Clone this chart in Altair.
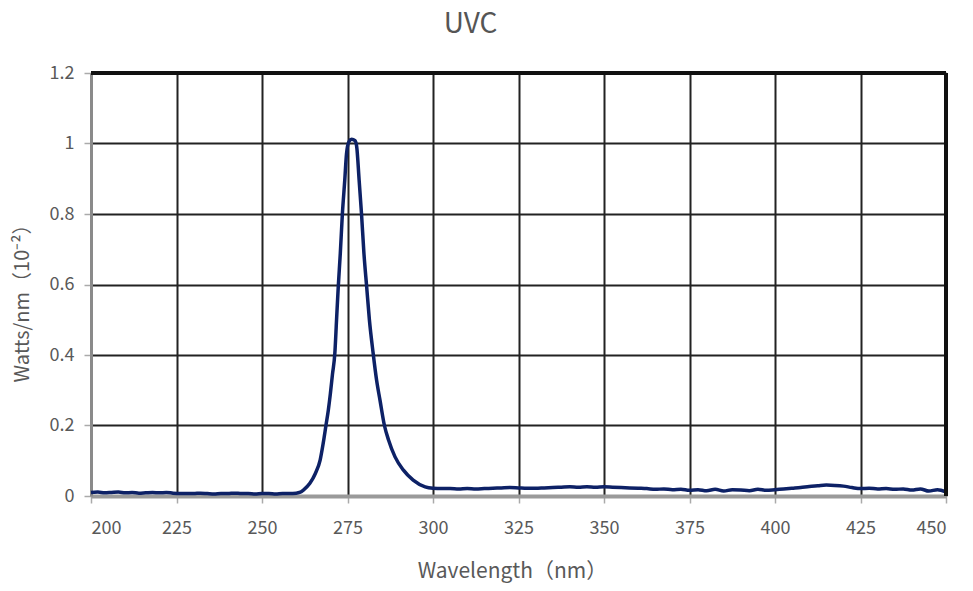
import altair as alt
import pandas as pd

# Emission spectrum of a UVC LED (relative power, units of 10^-2 W/nm)
wavelength = [
    200, 202, 204, 206, 208, 210, 212, 214, 216, 218, 220, 222, 224, 226, 228,
    230, 232, 234, 236, 238, 240, 242, 244, 246, 248, 250, 252, 254, 256, 258,
    260, 261,
    262.1, 264.0, 265.6, 267.0, 267.9, 268.7, 269.4, 270.0, 270.6, 271.3,
    271.8, 272.3, 272.9, 273.5, 274.2, 274.7, 275.4, 276.2, 277.2, 277.7,
    278.4, 279.1, 279.8, 280.6, 281.4, 282.5, 283.5, 284.5, 285.8, 287.0,
    288.9, 291.3, 294.2, 297.7, 300,
    302.5, 305, 307.5, 310, 312.5, 315, 317.5, 320, 322.5, 325, 327.5, 330,
    332.5, 335, 337.5, 340, 342.5, 345, 347.5, 350, 352.5, 355, 357.5, 360,
    362.5, 365, 367.5, 370, 372.5, 375, 377.5, 380, 382.5, 385, 387.5, 390,
    392.5, 395, 397.5, 400, 402.5, 405, 407.5, 410, 412.5, 415, 417.5, 420,
    422.5, 425, 427.5, 430, 432.5, 435, 437.5, 440, 442.5, 445, 447.5, 450,
]
power = [
    0.010, 0.011, 0.009, 0.010, 0.011, 0.009, 0.010, 0.008, 0.009, 0.010, 0.009,
    0.010, 0.008, 0.007, 0.007, 0.007, 0.008, 0.007, 0.006, 0.007, 0.007, 0.008,
    0.007, 0.007, 0.006, 0.007, 0.007, 0.006, 0.007, 0.007, 0.008, 0.010,
    0.017, 0.036, 0.064, 0.102, 0.150, 0.200, 0.244, 0.291, 0.345, 0.405,
    0.500, 0.594, 0.689, 0.800, 0.896, 0.970, 1.005, 1.012, 1.008, 0.990,
    0.896, 0.800, 0.689, 0.594, 0.500, 0.405, 0.329, 0.272, 0.200, 0.159,
    0.111, 0.074, 0.045, 0.026, 0.022,
    0.021, 0.021, 0.020, 0.021, 0.020, 0.021, 0.022, 0.023, 0.024, 0.023, 0.022,
    0.022, 0.023, 0.024, 0.025, 0.026, 0.025, 0.026, 0.025, 0.026, 0.025, 0.024,
    0.023, 0.022, 0.021, 0.019, 0.020, 0.018, 0.019, 0.016, 0.018, 0.015, 0.019,
    0.014, 0.018, 0.017, 0.015, 0.019, 0.016, 0.018, 0.020, 0.022, 0.024, 0.027,
    0.029, 0.031, 0.030, 0.028, 0.024, 0.021, 0.022, 0.020, 0.021, 0.019, 0.020,
    0.017, 0.020, 0.014, 0.018, 0.012,
]

x_ticks = [200, 225, 250, 275, 300, 325, 350, 375, 400, 425, 450]
y_ticks = [0, 0.2, 0.4, 0.6, 0.8, 1, 1.2]

df = pd.DataFrame({"wavelength": wavelength, "power": power})

FONT = "Noto Sans CJK SC"
GRAY = "#595959"

x_scale = alt.Scale(domain=[200, 450], nice=False, zero=False)
y_scale = alt.Scale(domain=[0, 1.2], nice=False)

x_axis = alt.Axis(
    values=x_ticks,
    title="Wavelength（nm）",
    titleFont=FONT, titleFontSize=21, titleFontWeight="normal", titleColor=GRAY,
    titleX=421, titleY=75, titleBaseline="middle",
    labelFont=FONT, labelFontSize=18, labelColor=GRAY, labelPadding=16,
    tickColor="#aaaaaa", tickSize=7, tickWidth=1.5,
    domainColor="#9a9a9a", domainWidth=4,
    grid=True, gridColor="#222222", gridWidth=2,
)
y_axis = alt.Axis(
    values=y_ticks,
    format="~g",
    title="Watts/nm（10⁻²）",
    titleFont=FONT, titleFontSize=20, titleFontWeight="normal", titleColor=GRAY,
    titleX=-69, titleY=225, titleBaseline="middle", titleAngle=-90,
    labelFont=FONT, labelFontSize=18, labelColor=GRAY, labelPadding=10,
    tickColor="#aaaaaa", tickSize=7, tickWidth=1.5,
    domainColor="#8a8a8a", domainWidth=3,
    grid=True, gridColor="#222222", gridWidth=2,
)

line = alt.Chart(df).mark_line(
    color="#0d2166", strokeWidth=3.5, interpolate="monotone"
).encode(
    x=alt.X("wavelength:Q", scale=x_scale, axis=x_axis),
    y=alt.Y("power:Q", scale=y_scale, axis=y_axis),
)

# Black frame on the top and right edges of the plot
top_edge = alt.Chart(df).mark_rule(color="#111111", strokeWidth=3).encode(
    y=alt.datum(1.2, scale=y_scale),
    x=alt.value(0), x2=alt.value(855),
)
right_edge = alt.Chart(df).mark_rule(color="#111111", strokeWidth=3).encode(
    x=alt.datum(450, scale=x_scale),
    y=alt.value(0), y2=alt.value(423),
)

chart = alt.layer(line, top_edge, right_edge).properties(
    width=855,
    height=423,
    title=alt.TitleParams(
        "UVC", font=FONT, fontSize=28, fontWeight="normal", color="#555555",
        anchor="middle", dx=-48, offset=25,
    ),
    autosize=alt.AutoSizeParams(type="none"),
    padding={"left": 91, "top": 73, "right": 27, "bottom": 95},
    background="white",
).configure_view(stroke=None)

chart.save("out.html", embed_options={"renderer": "svg", "actions": False})
